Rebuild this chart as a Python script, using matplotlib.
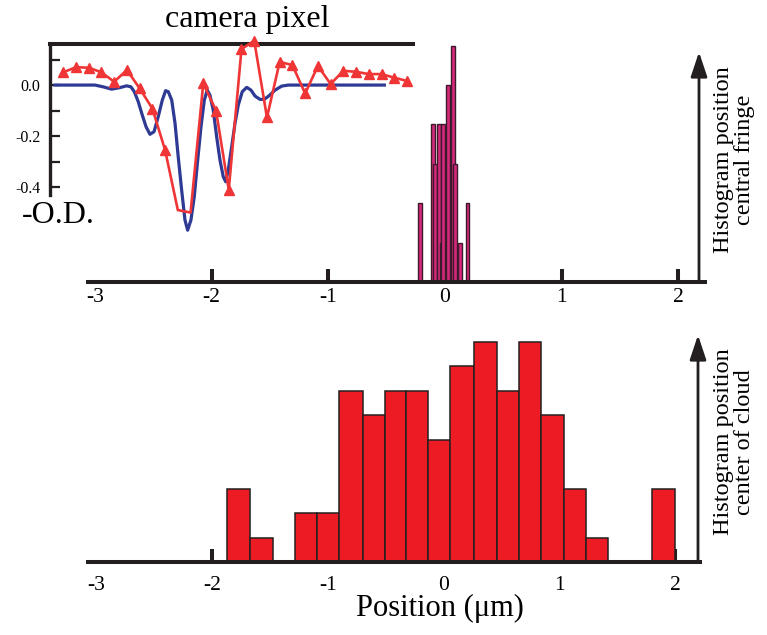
import matplotlib
matplotlib.use("Agg")
import matplotlib.pyplot as plt
import numpy as np

# ---- data ----
# bottom panel: histogram of the cloud centre, bin edges in um and counts
cloud_edges = [-1.87, -1.67, -1.47, -1.28, -1.09, -0.90, -0.70, -0.51, -0.32, -0.13,
               0.06, 0.26, 0.46, 0.65, 0.84, 1.04, 1.23, 1.42, 1.62, 1.80, 2.00]
cloud_counts = [3, 1, 0, 2, 2, 7, 6, 7, 7, 5, 8, 9, 7, 9, 6, 3, 1, 0, 0, 3]

# top panel: histogram of the central-fringe position (narrow bars)
fringe_pos = [-0.214, -0.103, -0.088, -0.049, -0.028, -0.017, 0.024, 0.067, 0.088, 0.129, 0.193]
fringe_counts = [2, 4, 3, 4, 1, 4, 5, 6, 3, 1, 2]
fringe_width = 0.034

# inset: -O.D. profile along camera pixels (measured, red) and fit (blue)
pixel = [0, 1, 2, 3, 4, 5, 6, 7, 8, 9, 10, 11, 12, 13,
         14, 15, 16, 17, 18, 19, 20, 21, 22, 23, 24, 25, 26, 27]
od_meas = [0.050, 0.070, 0.068, 0.050, 0.013, 0.059, -0.013, -0.092, -0.255, -0.490,
           -0.500, 0.007, -0.100, -0.410, 0.141, 0.174, -0.127, 0.091, 0.078, -0.033,
           0.075, 0.004, 0.056, 0.052, 0.043, 0.043, 0.029, 0.016]
fit_pixel = [-0.65, 2.49, 3.14, 3.80, 4.45, 4.98, 5.32, 5.58, 5.89, 6.21, 6.50, 6.81,
             7.13, 7.46, 7.78, 8.04, 8.25, 8.52, 8.78, 9.03, 9.30, 9.56, 9.77, 10.03,
             10.29, 10.56, 10.82, 11.08, 11.31, 11.52, 11.78, 12.05, 12.31, 12.57, 12.76,
             12.96, 13.23, 13.49, 13.75, 14.06, 14.41, 14.75, 15.06, 15.45, 15.79, 16.16,
             16.63, 17.16, 17.68, 25.22]
od_fit = [0.0, 0.0, -0.007, -0.016, -0.010, -0.003, -0.007, -0.026, -0.065, -0.118,
          -0.163, -0.193, -0.183, -0.124, -0.059, -0.022, -0.026, -0.059, -0.150, -0.281,
          -0.412, -0.529, -0.569, -0.529, -0.438, -0.294, -0.163, -0.059, -0.020, -0.039,
          -0.098, -0.203, -0.294, -0.360, -0.379, -0.333, -0.242, -0.150, -0.078, -0.026,
          -0.009, -0.020, -0.043, -0.056, -0.056, -0.042, -0.020, -0.004, 0.0, 0.0]

pos_ticks = [-3, -2, -1, 0, 1, 2]
pos_labels = ["-3", "-2", "-1", "0", "1", "2"]
od_ticks = [0.0, -0.2, -0.4]
od_labels = ["0.0", "-0.2", "-0.4"]

INK, RED, PINK, DARKPINK, BLUE = "#231F20", "#ED1C24", "#D6287A", "#3C1A2C", "#2E3A94"
LINERED = "#EF3535"

plt.rcParams.update({
    "font.family": ["Liberation Serif", "DejaVu Serif"],
})

W, H = 767, 635
fig = plt.figure(figsize=(W / 100, H / 100), dpi=100)


def box(x0, y0, x1, y1):
    """pixel box (from top-left) -> figure fraction rect"""
    return [x0 / W, 1 - y1 / H, (x1 - x0) / W, (y1 - y0) / H]


def fx(x):
    return x / W


def fy(y):
    return 1 - y / H


def style_position_axis(ax, pad):
    for s in ("top", "right", "left"):
        ax.spines[s].set_visible(False)
    ax.spines["bottom"].set_linewidth(2.9)
    ax.spines["bottom"].set_color(INK)
    ax.set_yticks([])
    ax.set_xticks(pos_ticks)
    ax.set_xticklabels(pos_labels)
    ax.tick_params(axis="x", direction="in", length=9.5, width=2.9, color=INK,
                   labelsize=15.5, pad=pad)
    ax.xaxis.get_major_ticks()[0].tick1line.set_visible(False)
    ax.set_axisbelow(True)
    ax.patch.set_alpha(0)


# ---- top panel: central fringe ----
ax1 = fig.add_axes(box(88, 40, 705, 282))
ax1.bar(fringe_pos, fringe_counts, width=fringe_width, color=PINK,
        edgecolor=DARKPINK, linewidth=1.0, zorder=2)
ax1.set_xlim(-3.059, 2.228)
ax1.set_ylim(0, 6.14)
style_position_axis(ax1, pad=4)

# ---- bottom panel: cloud centre ----
ax2 = fig.add_axes(box(88, 320, 700, 562))
ax2.bar(cloud_edges[:-1], cloud_counts, width=np.diff(cloud_edges), align="edge",
        color=RED, edgecolor=INK, linewidth=1.1, zorder=2)
ax2.set_xlim(-3.073, 2.217)
ax2.set_ylim(0, 9.88)
style_position_axis(ax2, pad=10)
fig.text(fx(440), fy(608), "Position (\u03bcm)", fontsize=22, ha="center", va="center")

# ---- vertical arrows and side labels ----
for x, base, tip in [(699, 282, 52), (698, 562, 335)]:
    fig.add_artist(matplotlib.patches.FancyArrowPatch(
        (fx(x), fy(base)), (fx(x), fy(tip)), transform=fig.transFigure,
        arrowstyle="-|>,head_length=0.75,head_width=0.25", mutation_scale=20,
        lw=2.0, color=INK, shrinkA=0, shrinkB=0))
fig.text(fx(734), fy(160), "Histogram position\ncentral fringe", rotation=90,
         fontsize=17.5, ha="center", va="center", multialignment="center", linespacing=1.0)
fig.text(fx(734), fy(442), "Histogram position\ncenter of cloud", rotation=90,
         fontsize=17.5, ha="center", va="center", multialignment="center", linespacing=1.0)

# ---- inset: -O.D. versus camera pixel ----
ax3 = fig.add_axes(box(50, 44, 413, 195))
ax3.patch.set_alpha(0)
ax3.plot(fit_pixel, od_fit, color=BLUE, lw=2.3, clip_on=False, zorder=3)
keep = [i for i in range(len(od_meas)) if i not in (9, 10)]
ax3.plot(pixel, od_meas, color=LINERED, lw=1.9, marker="^", ms=7, markevery=keep,
         clip_on=False, zorder=4)
ax3.set_xlim(-1.04, 27.47)
ax3.set_ylim(-0.431, 0.161)
for s in ("bottom", "right"):
    ax3.spines[s].set_visible(False)
ax3.spines["top"].set_linewidth(2.9)
ax3.spines["left"].set_linewidth(2.4)
for s in ("top", "left"):
    ax3.spines[s].set_color(INK)
ax3.set_xticks([])
ax3.set_yticks(od_ticks)
ax3.set_yticklabels(od_labels)
ax3.set_yticks([0.1, -0.1, -0.3], minor=True)
ax3.tick_params(axis="y", which="both", direction="in", length=7, width=1.6,
                color=INK, labelsize=11.5, pad=7)
fig.text(fx(247), fy(27), "camera pixel", fontsize=23, ha="center", va="baseline")
fig.text(fx(22), fy(223), "-O.D.", fontsize=23, ha="left", va="baseline")

fig.savefig("out.png", dpi=100)
